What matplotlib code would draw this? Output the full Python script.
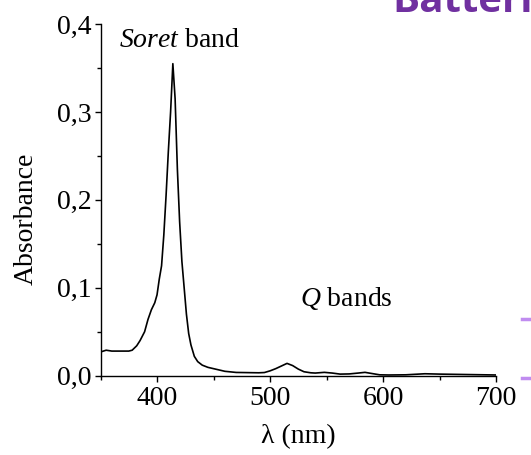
import matplotlib
matplotlib.use("Agg")
import matplotlib.pyplot as plt
from matplotlib.ticker import MultipleLocator, FuncFormatter
from matplotlib.lines import Line2D

plt.rcParams['font.family'] = ['Liberation Serif', 'DejaVu Serif']
plt.rcParams['mathtext.fontset'] = 'custom'
plt.rcParams['mathtext.rm'] = 'Liberation Serif'
plt.rcParams['mathtext.it'] = 'Liberation Serif:italic'

wavelength = [350, 355, 360, 365, 370, 375, 378, 382, 385, 389, 392, 395, 398, 400,
              402, 404, 406, 408, 410, 412, 414, 416, 418, 420, 422, 424, 426, 428,
              430, 433, 436, 440, 445, 450, 460, 470, 480, 490, 495, 500, 505, 510,
              515, 520, 525, 530, 536, 540, 548, 555, 562, 570, 578, 584, 590, 597,
              605, 620, 637, 650, 665, 680, 700]
absorbance = [0.027, 0.029, 0.028, 0.028, 0.028, 0.028, 0.029, 0.034, 0.040, 0.050,
              0.064, 0.075, 0.083, 0.092, 0.110, 0.125, 0.160, 0.205, 0.255, 0.300,
              0.355, 0.315, 0.235, 0.175, 0.130, 0.100, 0.070, 0.048, 0.035, 0.022,
              0.016, 0.012, 0.0095, 0.008, 0.005, 0.0037, 0.0035, 0.0033, 0.0036,
              0.0055, 0.008, 0.011, 0.014, 0.0115, 0.0075, 0.0045, 0.0033, 0.003,
              0.0038, 0.003, 0.0018, 0.002, 0.003, 0.0038, 0.0025, 0.001, 0.0008,
              0.001, 0.0022, 0.0018, 0.0015, 0.0012, 0.0008]

x_ticks = [400, 500, 600, 700]
y_ticks = [0.0, 0.1, 0.2, 0.3, 0.4]

fig = plt.figure(figsize=(5.31, 4.55), dpi=100)
ax = fig.add_axes([0.1893, 0.1743, 0.745, 0.7727])

ax.plot(wavelength, absorbance, color='black', lw=1.2)
ax.set_xlim(350, 700)
ax.set_ylim(0, 0.4)
ax.set_xticks(x_ticks)
ax.set_yticks(y_ticks)
ax.xaxis.set_minor_locator(MultipleLocator(50))
ax.yaxis.set_minor_locator(MultipleLocator(0.05))
ax.yaxis.set_major_formatter(FuncFormatter(lambda v, p: f"{v:.1f}".replace('.', ',')))

for s in ['top', 'right']:
    ax.spines[s].set_visible(False)
for s in ['left', 'bottom']:
    ax.spines[s].set_linewidth(1.0)

ax.tick_params(which='major', direction='out', length=4.5, width=1.0, labelsize=20, pad=2)
ax.tick_params(which='minor', direction='out', length=3, width=1.0)
ax.tick_params(axis='x', which='major', pad=3)

ax.set_xlabel('λ (nm)', fontsize=20)
ax.set_ylabel('Absorbance', fontsize=20)
ax.xaxis.set_label_coords(0.5, -0.174)
ax.xaxis.label.set_va('center')
ax.yaxis.set_label_coords(-0.188, 0.4456)
ax.yaxis.label.set_va('center')

ax.text(366.5, 0.374, r'$\mathit{Soret}$ band', fontsize=20, va='baseline', ha='left')
ax.text(526.5, 0.079, r'$\mathit{Q}$ bands', fontsize=20, va='baseline', ha='left')

fig.text(392 / 531, 1 - 12 / 455, 'Batteri', fontsize=29, fontweight='bold',
         color='#7030A0', family='Open Sans', va='baseline', ha='left')
for yy in [319, 378]:
    fig.add_artist(Line2D([522 / 531, 531 / 531], [1 - yy / 455, 1 - yy / 455],
                          color='#C08CF0', lw=2.5, transform=fig.transFigure))

fig.savefig('out.png', dpi=100)
